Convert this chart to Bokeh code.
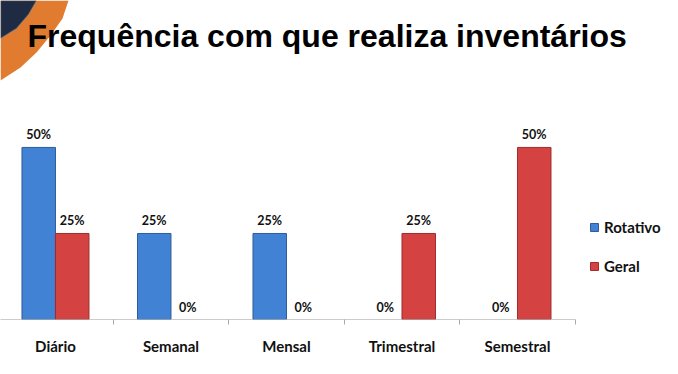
import numpy as np
from bokeh.plotting import figure
from bokeh.models import (ColumnDataSource, Range1d, FixedTicker, Legend, LegendItem,
                          Label, PolyAnnotation)
from bokeh.core.properties import value
from bokeh.embed import file_html
from bokeh.resources import INLINE

categories = ["Diário", "Semanal", "Mensal", "Trimestral", "Semestral"]
rotativo = [0.50, 0.25, 0.25, 0.0, 0.0]
geral = [0.25, 0.0, 0.0, 0.25, 0.50]
title_text = "Frequência com que realiza inventários"

idx = np.arange(len(categories))
off = 0.145
bw = 0.29

src_r = ColumnDataSource(dict(x=idx - off, top=rotativo,
                              la=[1.0 if v > 0 else 0.0 for v in rotativo],
                              lab=[f"{int(round(v*100))}%" for v in rotativo]))
src_g = ColumnDataSource(dict(x=idx + off, top=geral,
                              la=[1.0 if v > 0 else 0.0 for v in geral],
                              lab=[f"{int(round(v*100))}%" for v in geral]))

# frame covers canvas from top to baseline; 115.5 px per category, 344 px per unit
p = figure(width=678, height=374, output_backend="svg", toolbar_location=None,
           x_range=Range1d(-0.476, 5.394), y_range=Range1d(0, 0.927),
           y_axis_location=None, min_border_left=0, min_border_right=0,
           min_border_top=0, min_border_bottom=55)
p.outline_line_color = None
p.xgrid.visible = False
p.ygrid.visible = False

rb = p.vbar(x="x", top="top", width=bw, source=src_r, fill_color="#4282d4",
            line_color="#2c5c9c", line_alpha="la", line_width=1)
gb = p.vbar(x="x", top="top", width=bw, source=src_g, fill_color="#d44242",
            line_color="#a02c2c", line_alpha="la", line_width=1)

# baseline across the category span
p.segment(x0=[-0.5], y0=[0], x1=[len(categories) - 0.5], y1=[0],
          line_color="#999999", line_width=1)

for s in (src_r, src_g):
    p.text(x="x", y="top", text="lab", source=s, text_align="center",
           text_baseline="bottom", y_offset=-5, text_font=value("Lato"),
           text_font_style="bold", text_font_size="12.5px", text_color="#111111")

ax = p.xaxis[0]
ax.ticker = FixedTicker(ticks=list(idx), minor_ticks=list(idx + 0.5))
ax.major_label_overrides = {int(i): c for i, c in zip(idx, categories)}
ax.major_tick_line_color = None
ax.minor_tick_in = 0
ax.minor_tick_out = 5
ax.minor_tick_line_color = "#aaaaaa"
ax.axis_line_color = None
ax.major_label_standoff = 11
ax.major_label_text_font = "Lato"
ax.major_label_text_font_style = "bold"
ax.major_label_text_font_size = "15px"
ax.major_label_text_color = "#111111"

legend = Legend(items=[LegendItem(label="Rotativo", renderers=[rb]),
                       LegendItem(label="Geral", renderers=[gb])],
                location=(589, 43))
legend.border_line_color = None
legend.background_fill_alpha = 0
legend.label_text_font = "Lato"
legend.label_text_font_style = "bold"
legend.label_text_font_size = "15px"
legend.label_text_color = "#111111"
legend.glyph_width = 10
legend.glyph_height = 10
legend.label_height = 20
legend.spacing = 19
legend.label_standoff = 5
legend.padding = 0
legend.margin = 0
p.add_layout(legend, "center")

# decorative corner (screen px measured from the frame's bottom-left)
H = 319
orange = PolyAnnotation(xs=[0, 68, 62, 50, 36, 20, 0],
                        ys=[H, H, H - 18, H - 35, H - 52, H - 67, H - 80],
                        xs_units="screen", ys_units="screen",
                        fill_color="#e07b2f", fill_alpha=1, line_color=None)
navy = PolyAnnotation(xs=[0, 36, 28, 16, 0],
                      ys=[H, H, H - 14, H - 28, H - 38],
                      xs_units="screen", ys_units="screen",
                      fill_color="#1e2b42", fill_alpha=1, line_color="#8aa0ac", line_width=1.5)
p.add_layout(orange)
p.add_layout(navy)

p.add_layout(Label(x=27, y=H - 35, x_units="screen", y_units="screen", text=title_text,
                   text_baseline="alphabetic",
                   text_font="Liberation Sans", text_font_style="bold",
                   text_font_size="32px", text_color="#000000"))

open("out.html", "w").write(file_html(p, INLINE))
